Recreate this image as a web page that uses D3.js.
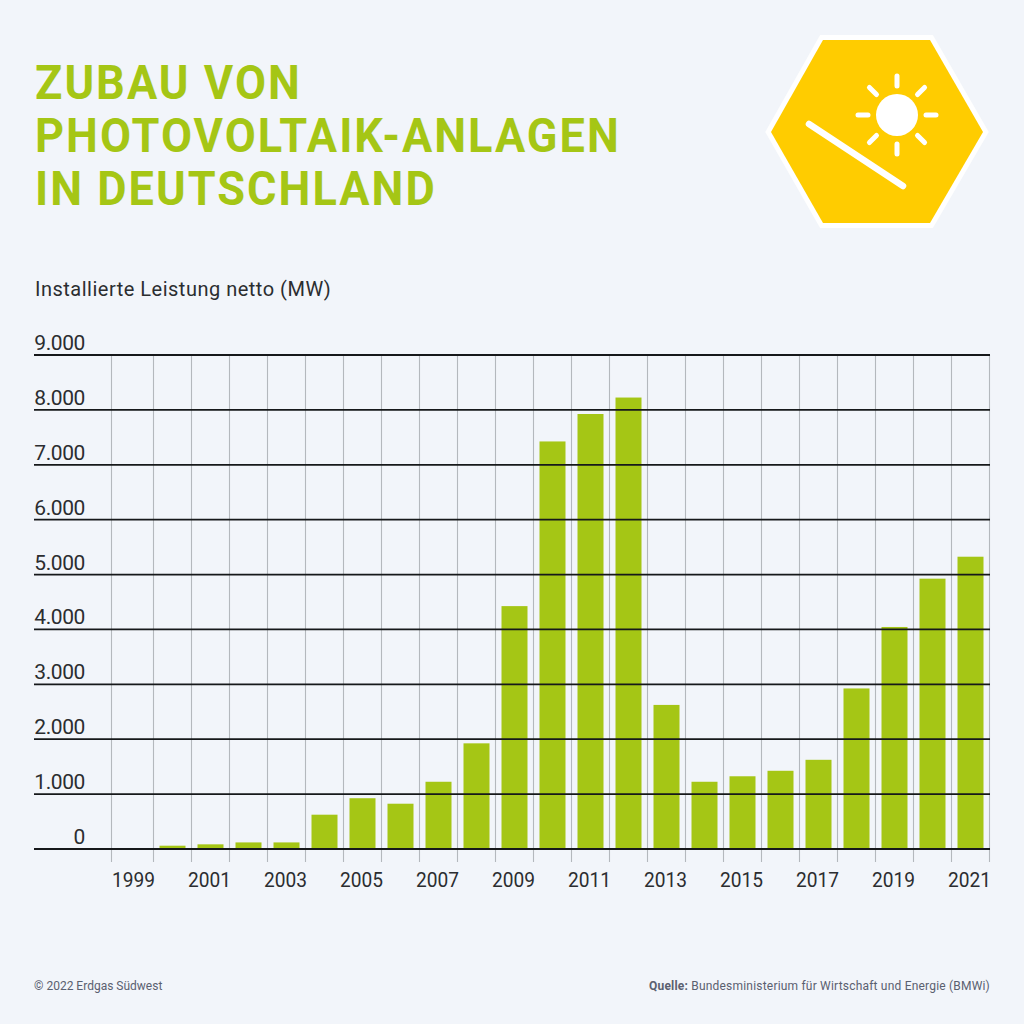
<!DOCTYPE html>
<html><head><meta charset="utf-8">
<script src="https://cdn.jsdelivr.net/npm/d3@7/dist/d3.min.js"></script>
<style>html,body{margin:0;padding:0;background:#f2f5fa}svg{display:block}text{font-family:Roboto,sans-serif}</style>
</head><body><svg id="c" width="1024" height="1024"></svg>
<script>
const years = [1999,2000,2001,2002,2003,2004,2005,2006,2007,2008,2009,2010,2011,2012,2013,2014,2015,2016,2017,2018,2019,2020,2021];
const values = [0,60,85,120,120,625,925,825,1225,1925,4425,7425,7925,8225,2625,1225,1325,1425,1625,2925,4045,4925,5325];
const yTicks = [0,1000,2000,3000,4000,5000,6000,7000,8000,9000];
const yearLabels = [1999,2001,2003,2005,2007,2009,2011,2013,2015,2017,2019,2021];
const titleLines = ["ZUBAU VON","PHOTOVOLTAIK-ANLAGEN","IN DEUTSCHLAND"];
const subtitle = "Installierte Leistung netto (MW)";

const svg = d3.select("#c");
svg.append("rect").attr("width",1024).attr("height",1024).attr("fill","#f2f5fa");
const green="#a5c615", ink="#2b2d30";

const x = d3.scaleBand().domain(years).range([115.5,989.5]).paddingInner(0).paddingOuter(0);
const y = d3.scaleLinear().domain([0,9000]).range([849,355]);
const fmt = d3.format(",");
const de = v => fmt(v).replace(/,/g,".");

titleLines.forEach((t,i)=>svg.append("text").attr("transform",`translate(35,${[99,152,205][i]}) scale(.92,1)`)
  .attr("font-size",49).attr("font-weight",700).attr("letter-spacing",2.2).attr("fill",green).text(t));
svg.append("text").attr("x",35).attr("y",296).attr("font-size",20).attr("letter-spacing",.5).attr("fill",ink).text(subtitle);

// vertical grid and tick marks
const vLines = years.map(d=>d===1999 ? x(d)-4 : x(d)).concat([x(2021)+x.step()]);
svg.append("g").selectAll("line").data(vLines).join("line")
  .attr("x1",d=>d).attr("x2",d=>d).attr("y1",y(9000)).attr("y2",y(0)+13)
  .attr("stroke","#b4b8bd").attr("stroke-width",1.1);

// bars
svg.append("g").selectAll("rect").data(years.map((d,i)=>({d,v:values[i]})).filter(e=>e.v>0)).join("rect")
  .attr("x",e=>x(e.d)+6).attr("width",x.step()-12)
  .attr("y",e=>y(e.v)).attr("height",e=>y(0)-y(e.v)).attr("fill",green);

// horizontal grid and labels
const yg = svg.append("g");
yg.selectAll("line").data(yTicks).join("line")
  .attr("x1",34).attr("x2",990).attr("y1",d=>y(d)).attr("y2",d=>y(d))
  .attr("stroke","#16181a").attr("stroke-width",1.8);
yg.selectAll("text").data(yTicks).join("text")
  .attr("x",85).attr("y",d=>y(d)-5).attr("text-anchor","end")
  .attr("font-size",21).attr("letter-spacing",-.4).attr("fill",ink).text(de);

// year labels
svg.append("g").selectAll("text").data(yearLabels).join("text")
  .attr("x",d=>x(d)+x.step()/2-1).attr("y",887).attr("text-anchor","middle")
  .attr("font-size",21).attr("textLength",43).attr("lengthAdjust","spacingAndGlyphs").attr("fill",ink).text(d=>d);

// footer
svg.append("text").attr("x",34).attr("y",990).attr("font-size",12).attr("fill","#5a6070").text("© 2022 Erdgas Südwest");
const src = svg.append("text").attr("x",990).attr("y",990).attr("text-anchor","end").attr("font-size",12).attr("letter-spacing",.2).attr("fill","#5a6070");
src.append("tspan").attr("font-weight",700).text("Quelle: ");
src.append("tspan").text("Bundesministerium für Wirtschaft und Energie (BMWi)");

// icon
const icon = svg.append("g");
const hex = "823,40 930,40 983,132 930,223 823,223 771,132";
icon.append("polygon").attr("points",hex).attr("fill","#fff").attr("stroke","#fff").attr("stroke-width",10).attr("stroke-linejoin","miter");
icon.append("polygon").attr("points",hex).attr("fill","#ffcc00");
icon.append("circle").attr("cx",897).attr("cy",115).attr("r",21).attr("fill","#fff");
d3.range(8).forEach(i=>{const a=i*Math.PI/4;
  icon.append("line").attr("x1",897+29*Math.cos(a)).attr("y1",115+29*Math.sin(a))
    .attr("x2",897+39*Math.cos(a)).attr("y2",115+39*Math.sin(a))
    .attr("stroke","#fff").attr("stroke-width",5).attr("stroke-linecap","round");});
icon.append("line").attr("x1",809).attr("y1",124).attr("x2",903).attr("y2",186)
  .attr("stroke","#fff").attr("stroke-width",6.5).attr("stroke-linecap","round");
</script></body></html>
